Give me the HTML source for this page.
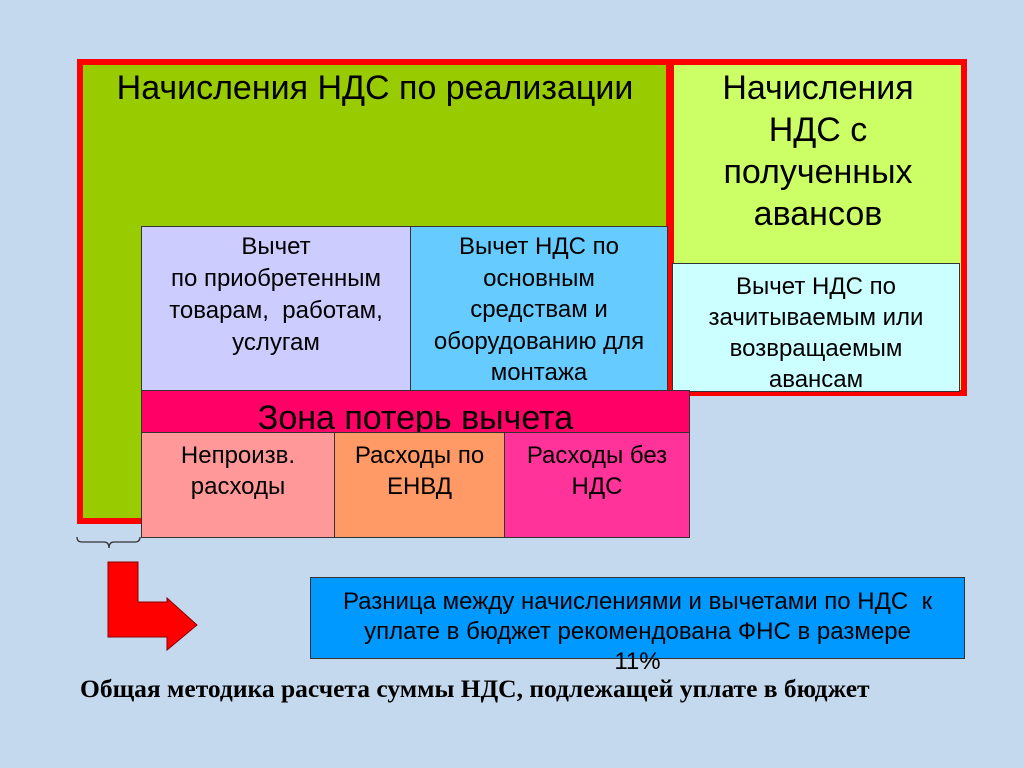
<!DOCTYPE html>
<html><head><meta charset="utf-8"><style>
body{margin:0;width:1024px;height:768px;background:#c5d9ee;position:relative;overflow:hidden;font-family:"Liberation Sans",sans-serif;}
.b{position:absolute;box-sizing:border-box;text-align:center;color:#000;white-space:nowrap;}
</style></head><body>
<div class="b" style="left:77px;top:59px;width:595px;height:465px;background:#99cc00;border:6px solid #ff0000;"></div>
<div class="b" style="left:85px;top:68px;width:580px;font-size:34px;line-height:40px;">Начисления НДС по реализации</div>
<div class="b" style="left:668px;top:59px;width:299px;height:337px;background:#ccff66;border:6px solid #ff0000;"></div>
<div class="b" style="left:676px;top:67px;width:284px;font-size:34px;line-height:42px;">Начисления<br>НДС с<br>полученных<br>авансов</div>
<div class="b" style="left:672px;top:263px;width:288px;height:129px;background:#ccffff;border:1.5px solid #333;font-size:24px;line-height:31px;padding-top:7px;">Вычет НДС по<br>зачитываемым или<br>возвращаемым<br>авансам</div>
<div class="b" style="left:141px;top:226px;width:270px;height:165px;background:#ccccff;border:1.5px solid #333;font-size:24px;line-height:32px;padding-top:4px;">Вычет<br>по приобретенным<br>товарам,&nbsp; работам,<br>услугам</div>
<div class="b" style="left:410px;top:226px;width:258px;height:165px;background:#66ccff;border:1.5px solid #333;font-size:24px;line-height:31.5px;padding-top:4px;">Вычет НДС по<br>основным<br>средствам и<br>оборудованию для<br>монтажа</div>
<div class="b" style="left:141px;top:390px;width:549px;height:43px;background:#ff0066;border:1.5px solid #333;font-size:34px;line-height:54px;overflow:hidden;">Зона потерь вычета</div>
<div class="b" style="left:141px;top:432px;width:194px;height:106px;background:#ff9999;border:1.5px solid #333;font-size:24px;line-height:31px;padding-top:7px;">Непроизв.<br>расходы</div>
<div class="b" style="left:334px;top:432px;width:171px;height:106px;background:#ff9966;border:1.5px solid #333;font-size:24px;line-height:31px;padding-top:7px;">Расходы по<br>ЕНВД</div>
<div class="b" style="left:504px;top:432px;width:186px;height:106px;background:#ff3399;border:1.5px solid #333;font-size:24px;line-height:31px;padding-top:7px;">Расходы без<br>НДС</div>
<div class="b" style="left:310px;top:577px;width:655px;height:82px;background:#0099ff;border:1.5px solid #333;font-size:24px;line-height:30px;padding-top:9px;">Разница между начислениями и вычетами по НДС&nbsp; к<br>уплате в бюджет рекомендована ФНС в размере<br>11%</div>
<svg style="position:absolute;left:0;top:0" width="1024" height="768">
<path d="M77 537 Q77 542 82 542 L104 542 Q109 542 109 548 Q109 542 114 542 L135 542 Q140 542 140 537" fill="none" stroke="#333" stroke-width="1.3"/>
<polygon points="108,562 138,562 138,602 167,602 167,598 197,625 167,650 167,637 108,637" fill="#ff0000" stroke="#800" stroke-width="1"/>
</svg>
<div style="position:absolute;left:80px;top:674px;font-family:'Liberation Serif',serif;font-weight:bold;font-size:25.5px;white-space:nowrap;">Общая методика расчета суммы НДС, подлежащей уплате в бюджет</div>
</body></html>
